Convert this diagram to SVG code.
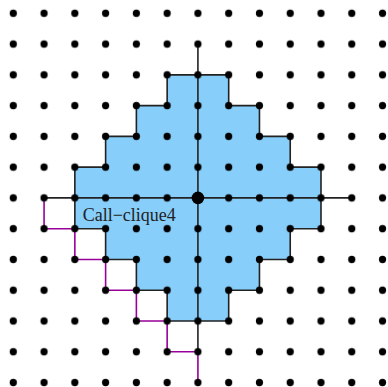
<svg xmlns="http://www.w3.org/2000/svg" width="388" height="387" viewBox="0 0 388 387">
<style>
.edge{fill:none;stroke:#222;stroke-width:1.6;stroke-linejoin:miter}
.mag{fill:none;stroke:#990099;stroke-width:1.6}
.lbl{font-family:"Liberation Serif","Times New Roman",serif;font-size:18px;fill:#222}
</style>
<defs>
<pattern id="dots" patternUnits="userSpaceOnUse" x="-2.085" y="-2.085" width="30.77" height="30.77">
<circle cx="15.385" cy="15.385" r="3.6" fill="#000"/>
</pattern>
</defs>
<rect width="388" height="387" fill="#fff"/>
<g id="region">
<polygon fill="#87cefa" stroke="none" points="167.15,74.84 228.69,74.84 228.69,105.61 259.46,105.61 259.46,136.38 290.23,136.38 290.23,167.15 321,167.15 321,228.69 290.23,228.69 290.23,259.46 259.46,259.46 259.46,290.23 228.69,290.23 228.69,321 167.15,321 167.15,290.23 136.38,290.23 136.38,259.46 105.61,259.46 105.61,228.69 74.84,228.69 74.84,167.15 105.61,167.15 105.61,136.38 136.38,136.38 136.38,105.61 167.15,105.61"/>
</g>
<g id="connectors">
<polyline class="mag" points="44.07,197.92 44.07,228.69 74.84,228.69 74.84,259.46 105.61,259.46 105.61,290.23 136.38,290.23 136.38,321 167.15,321 167.15,351.77 197.92,351.77 197.92,382.54"/>
<polygon class="edge" points="167.15,74.84 228.69,74.84 228.69,105.61 259.46,105.61 259.46,136.38 290.23,136.38 290.23,167.15 321,167.15 321,228.69 290.23,228.69 290.23,259.46 259.46,259.46 259.46,290.23 228.69,290.23 228.69,321 167.15,321 167.15,290.23 136.38,290.23 136.38,259.46 105.61,259.46 105.61,228.69 74.84,228.69 74.84,167.15 105.61,167.15 105.61,136.38 136.38,136.38 136.38,105.61 167.15,105.61"/>
<line class="edge" x1="44.07" y1="197.92" x2="351.77" y2="197.92"/>
<line class="edge" x1="197.92" y1="44.07" x2="197.92" y2="351.77"/>
</g>
<g id="grid">
<rect x="0" y="0" width="388" height="387" fill="url(#dots)"/>
<circle cx="197.92" cy="197.92" r="6.3" fill="#000"/>
</g>
<g id="label">
<text class="lbl" x="82.7" y="220.7">Call−clique4</text>
</g>
</svg>
